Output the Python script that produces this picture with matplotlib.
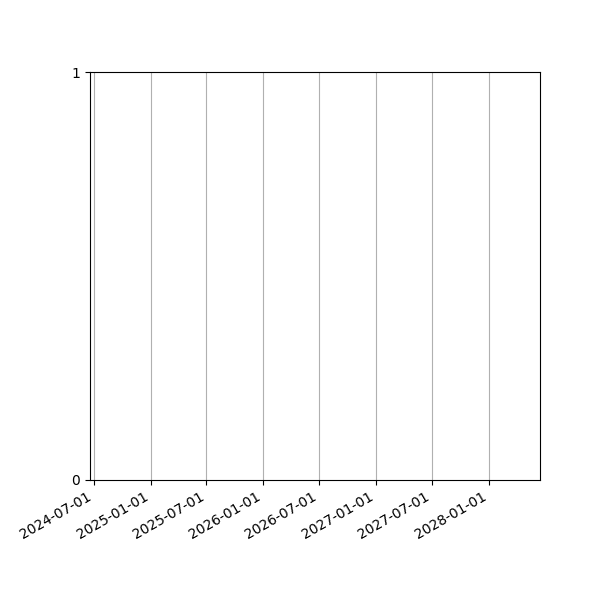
import datetime as dt
import matplotlib
matplotlib.use("Agg")
import matplotlib.pyplot as plt
import matplotlib.dates as mdates

# axis range (the chart has no series drawn)
x_start = dt.date(2024, 6, 19)
x_end = dt.date(2028, 6, 15)
y_ticks = [0, 1]

fig, ax = plt.subplots(figsize=(6, 6), dpi=100)

ax.set_xlim(x_start, x_end)
ax.set_ylim(0, 1)
ax.set_yticks(y_ticks)

ax.xaxis.set_major_locator(mdates.MonthLocator(bymonth=[1, 7]))
ax.xaxis.set_major_formatter(mdates.DateFormatter("%Y-%m-%d"))
ax.grid(True, axis="x", color="#b0b0b0", linewidth=0.8)

fig.autofmt_xdate()
fig.subplots_adjust(left=0.15, right=0.9, top=0.88, bottom=0.2)

fig.savefig("out.png")
